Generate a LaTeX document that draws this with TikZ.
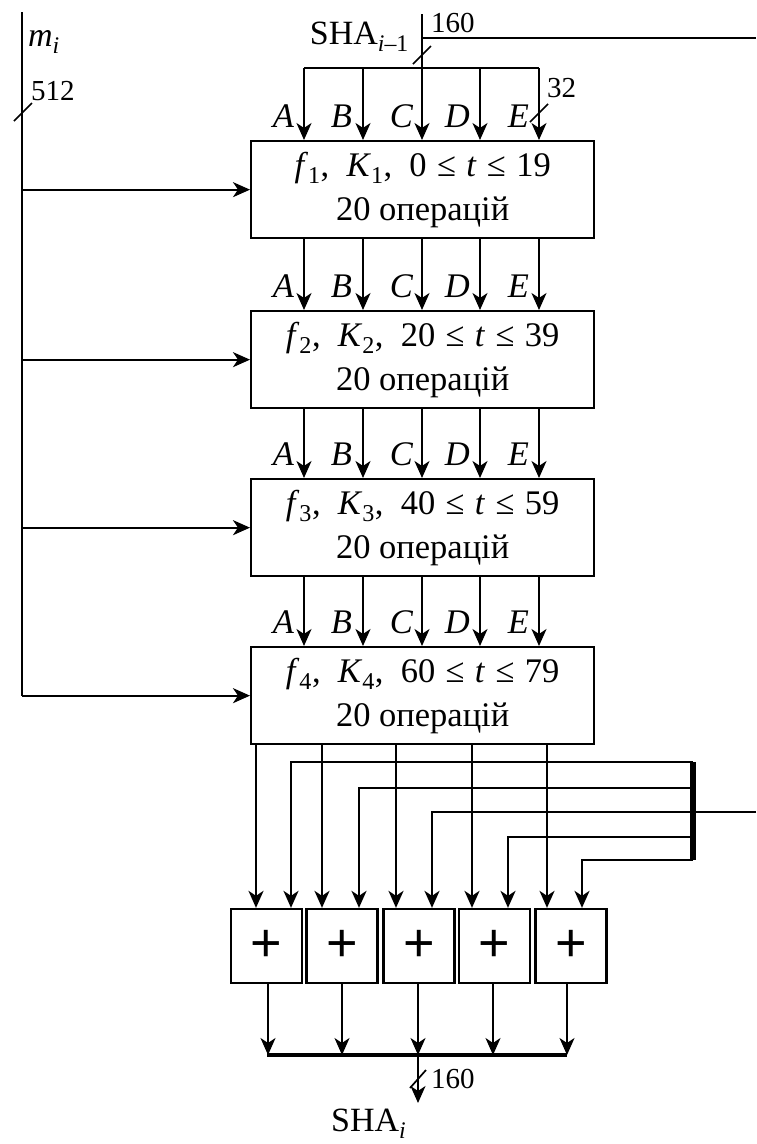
\documentclass[tikz,border=0pt]{standalone}
\usepackage{fontspec}
\setmainfont{Liberation Serif}
\newfontfamily\plusfont{Liberation Sans}
\usetikzlibrary{arrows.meta}
\newcommand\gp{\hspace{0.3em}}
\newcommand\cgp{\hspace{0.5em}}
\begin{document}
\begin{tikzpicture}[x=1pt,y=-1pt,
  line width=2.3pt,
  arr/.style={-{Stealth[length=17pt,width=15pt,inset=5pt]}},
  stage/.style={draw, minimum width=343pt, minimum height=97pt, inner sep=0pt, align=center,
    font=\fontsize{34.5}{44}\selectfont, anchor=north west},
  adder/.style={draw, minimum width=71pt, minimum height=74pt, inner sep=0pt,
    font=\plusfont\fontsize{54}{54}\selectfont},
  lbl/.style={font=\fontsize{34.5}{34}\selectfont\itshape, anchor=base east, inner sep=0pt},
  num/.style={font=\fontsize{29}{29}\selectfont, inner sep=0pt, anchor=base west},
  txt/.style={font=\fontsize{34}{34}\selectfont, inner sep=0pt},
  slash/.style={line width=1.7pt},
  bus/.style={line width=6pt, line cap=butt},
  outbus/.style={line width=4.5pt}]

\useasboundingbox (0,0) rectangle (756,1144);

% column coordinates
\coordinate (cA) at (304,0);
\coordinate (cB) at (363,0);
\coordinate (cC) at (422,0);
\coordinate (cD) at (480,0);
\coordinate (cE) at (539,0);

% stages
\node[stage] (b1) at (250,140) {\textit{f}\textsubscript{1},\cgp\textit{K}\textsubscript{1},\cgp 0\gp≤\gp\textit{t}\gp≤\gp 19\\20 операцій};
\node[stage] (b2) at (250,310) {\textit{f}\textsubscript{2},\cgp\textit{K}\textsubscript{2},\cgp 20\gp≤\gp\textit{t}\gp≤\gp 39\\20 операцій};
\node[stage] (b3) at (250,478) {\textit{f}\textsubscript{3},\cgp\textit{K}\textsubscript{3},\cgp 40\gp≤\gp\textit{t}\gp≤\gp 59\\20 операцій};
\node[stage] (b4) at (250,646) {\textit{f}\textsubscript{4},\cgp\textit{K}\textsubscript{4},\cgp 60\gp≤\gp\textit{t}\gp≤\gp 79\\20 операцій};

% m_i bus
\coordinate (mtop) at (22,12);
\coordinate (mbot) at (mtop |- b4.west);
\draw (mtop) -- (mbot);
\node[font=\fontsize{34}{34}\selectfont\itshape, anchor=base west, inner sep=0pt] (mi) at (27,46) {m\textsubscript{i}};
\coordinate (ms1) at (14,121);
\coordinate (ms2) at (32,103);
\draw[slash] (ms1) -- (ms2);
\node[num] (n512) at (30,100) {512};
\foreach \b in {b1,b2,b3,b4}{
  \draw[arr] (mtop |- \b.west) -- (\b.west);
}

% SHA_{i-1} input
\node[txt, anchor=base east] (shain) at (410,44) {SHA\textsubscript{\textit{i}–1}};
\coordinate (src) at (422,14);
\coordinate (fbout) at (756,38);
\draw (src |- fbout) -- (fbout);
\draw[slash] (413,64) -- (431,46);
\node[num] (n160a) at (430,32) {160};
\coordinate (distL) at (304,68);
\coordinate (distR) at (539,68);
\draw (distL) -- (distR);
\draw[arr] (src) -- (cC |- b1.north);
\foreach \c in {cA,cB,cD,cE}{
  \draw[arr] (\c |- distL) -- (\c |- b1.north);
}
\draw[slash] (530,122) -- (548,104);
\node[num] (n32) at (546,97) {32};

% A..E labels
\foreach \b/\t in {b1/140,b2/310,b3/478,b4/646}{
  \node[lbl] at (295,\t-13) {A};
  \node[lbl] at (353,\t-13) {B};
  \node[lbl] at (414,\t-13) {C};
  \node[lbl] at (471,\t-13) {D};
  \node[lbl] at (530,\t-13) {E};
}

% inter-stage arrows
\foreach \u/\v in {b1/b2,b2/b3,b3/b4}{
  \foreach \c in {cA,cB,cC,cD,cE}{
    \draw[arr] (\c |- \u.south) -- (\c |- \v.north);
  }
}

% adders
\node[adder] (a1) at (266.5,946) {+};
\node[adder] (a2) at (342,946) {+};
\node[adder] (a3) at (419,946) {+};
\node[adder] (a4) at (494.5,946) {+};
\node[adder] (a5) at (571,946) {+};

% stage 4 outputs to adders
\foreach \x/\a in {256/a1,322/a2,396/a3,472/a4,547/a5}{
  \coordinate (tmp) at (\x,0);
  \draw[arr] (tmp |- b4.south) -- (tmp |- \a.north);
}

% feedback bus
\coordinate (fbT) at (693,762);
\coordinate (fbB) at (693,860);
\coordinate (fbin) at (756,812);
\draw[bus] (fbT) -- (fbB);
\draw (fbin) -- (fbin -| fbT);
\foreach \y/\x/\a in {762/291/a1,788/359/a2,812/432/a3,837/508/a4,860/582/a5}{
  \coordinate (tmp) at (\x,\y);
  \draw[arr] (693,\y) -- (tmp) -- (tmp |- \a.north);
}

% adder outputs
\coordinate (obL) at (267,1055);
\coordinate (obR) at (567,1055);
\draw[outbus] (obL) -- (obR);
\foreach \a/\x in {a1/268,a2/342,a3/418,a4/493,a5/567}{
  \coordinate (tmp) at (\x,0);
  \draw[arr, line width=1.8pt] (tmp |- \a.south) -- (tmp |- obL);
}

% final output
\coordinate (oc) at (418,1055);
\coordinate (oend) at (418,1103);
\draw[arr] (oc) -- (oend);
\draw[slash] (410,1088) -- (426,1070);
\node[num] (n160b) at (430,1088) {160};
\node[txt, anchor=base west] (shaout) at (330,1131) {SHA\textsubscript{\textit{i}}};
\end{tikzpicture}
\end{document}
